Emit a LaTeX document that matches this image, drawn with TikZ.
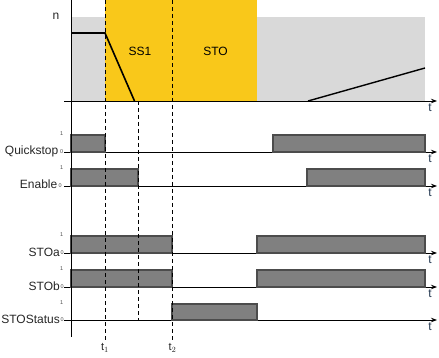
\documentclass[tikz,border=0pt]{standalone}
\usepackage{fontspec}
\setmainfont{Liberation Sans}
\usepackage{xcolor}
\usepackage{tikz}
\usetikzlibrary{arrows.meta}
\definecolor{ssgelb}{HTML}{F9C81A}
\definecolor{hellgrau}{HTML}{D9D9D9}
\definecolor{pulsgrau}{HTML}{808080}
\definecolor{tblau}{HTML}{22364F}

\begin{document}
\begin{tikzpicture}[x=1pt,y=-1pt,
  lbl/.style={anchor=base east,font=\fontsize{12}{12}\selectfont,text=black!85,inner sep=0pt},
  lvl/.style={anchor=east,font=\fontsize{5.5}{6}\selectfont,text=black!70,inner sep=0pt},
  tlbl/.style={anchor=north,font=\fontsize{12}{12}\selectfont,text=tblau,inner sep=0pt},
  puls/.style={fill=pulsgrau,draw=black!70,line width=1.1pt},
  achse/.style={line width=0.9pt,-{Stealth[length=6pt,width=4.5pt]}},
  strich/.style={dashed,dash pattern=on 4pt off 3pt,line width=0.7pt}]
\useasboundingbox (0,0) rectangle (439,358);
% speed diagram
\fill[hellgrau] (71,17) rectangle (425,101);
\fill[ssgelb] (105,0) rectangle (257,101);
\draw[line width=1.6pt] (71,33) -- (105,33) -- (134.5,101);
\draw[line width=1.4pt] (308,101) -- (425,68);
\draw[achse] (64,101) -- (437,101);
\node[font=\fontsize{12}{12}\selectfont,text=black!85] (n) at (56,16) {n};
\node[font=\fontsize{12}{12}\selectfont] (ss1) at (140,51) {SS1};
\node[font=\fontsize{12}{12}\selectfont] (sto) at (215.5,51) {STO};
\node[tlbl] (t0) at (430,104) {t};
% Quickstop
\draw[achse] (64,152) -- (437,152);
\filldraw[puls] (71,152) rectangle (105,135);
\filldraw[puls] (273,152) rectangle (425,135);
\node[lbl] (qs) at (58.5,154.5) {Quickstop};
\node[lvl] (qs0) at (63.5,152) {0};
\node[lvl] (qs1) at (63.5,134) {1};
\node[tlbl] (t1a) at (430,155) {t};
% Enable
\draw[achse] (64,186) -- (437,186);
\filldraw[puls] (71,186) rectangle (138,169);
\filldraw[puls] (307,186) rectangle (425,169);
\node[lbl] (en) at (57.5,189) {Enable};
\node[lvl] (en0) at (62,186) {0};
\node[lvl] (en1) at (63.5,168) {1};
\node[tlbl] (t2a) at (430,189) {t};
% STOa
\draw[achse] (64,253) -- (437,253);
\filldraw[puls] (71,253) rectangle (172,236);
\filldraw[puls] (257,253) rectangle (425,236);
\node[lbl] (stoa) at (60,256) {STOa};
\node[lvl] (stoa0) at (64,253) {0};
\node[lvl] (stoa1) at (63.5,235) {1};
\node[tlbl] (t3a) at (430,256) {t};
% STOb
\draw[achse] (64,287) -- (437,287);
\filldraw[puls] (71,287) rectangle (172,270);
\filldraw[puls] (257,287) rectangle (425,270);
\node[lbl] (stob) at (60,290) {STOb};
\node[lvl] (stob0) at (64,287) {0};
\node[lvl] (stob1) at (63.5,269) {1};
\node[tlbl] (t4a) at (430,290) {t};
% STOStatus
\draw[achse] (64,320) -- (437,320);
\filldraw[puls] (172,320) rectangle (257,304);
\node[lbl] (stos) at (60,323) {STOStatus};
\node[lvl] (stos0) at (64,320) {0};
\node[lvl] (stos1) at (63.5,303) {1};
\node[tlbl] (t5a) at (430,323) {t};
% time axis and markers
\draw[line width=0.9pt] (71,0) -- (71,337);
\draw[strich] (105,0) -- (105,342);
\draw[strich] (138.5,101) -- (138.5,320);
\draw[strich] (172,0) -- (172,340);
\node[font=\fontsize{11}{11}\selectfont,text=black!85] (mt1) at (105,348) {t$_1$};
\node[font=\fontsize{11}{11}\selectfont,text=black!85] (mt2) at (172.5,348) {t$_2$};
\end{tikzpicture}
\end{document}
